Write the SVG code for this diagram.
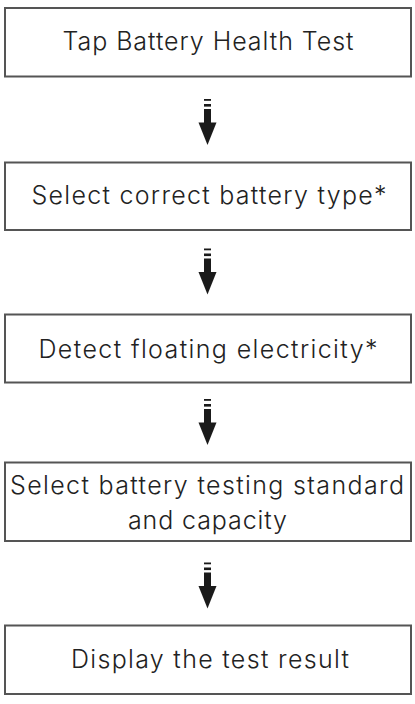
<svg xmlns="http://www.w3.org/2000/svg" width="415" height="704" viewBox="0 0 415 704">
<style>
.box{fill:#fff;stroke:#555;stroke-width:2}
.t{font-family:Inter,"Liberation Sans",sans-serif;font-weight:300;font-size:25px;fill:#222;text-anchor:middle}
.ar{fill:#1a1a1a}
</style>
<defs>
<g id="arrow">
<rect x="-3.5" y="0" width="7" height="1.8" class="ar"/>
<rect x="-3.5" y="5" width="7" height="2.6" class="ar"/>
<rect x="-3.5" y="10" width="7" height="14" class="ar"/>
<polygon points="-9,23.5 9,23.5 0,46" class="ar"/>
</g>
</defs>
<rect width="415" height="704" fill="#fff"/>
<g id="n1"><rect class="box" x="5" y="8" width="406" height="68.5"/><text class="t" x="208" y="50" textLength="291" lengthAdjust="spacing">Tap Battery Health Test</text></g>
<g id="n2"><rect class="box" x="5" y="162.5" width="406" height="67.5"/><text class="t" x="209" y="204" textLength="355" lengthAdjust="spacing">Select correct battery type*</text></g>
<g id="n3"><rect class="box" x="5" y="314.5" width="406" height="68"/><text class="t" x="208" y="358" textLength="339" lengthAdjust="spacing">Detect floating electricity*</text></g>
<g id="n4"><rect class="box" x="5" y="462.5" width="406" height="78.5"/><text class="t" x="207" y="494" textLength="394" lengthAdjust="spacing">Select battery testing standard</text><text class="t" x="207.5" y="529" textLength="159" lengthAdjust="spacing">and capacity</text></g>
<g id="n5"><rect class="box" x="5" y="625.5" width="406" height="68.5"/><text class="t" x="210" y="668" textLength="278" lengthAdjust="spacing">Display the test result</text></g>
<g id="connectors">
<use href="#arrow" x="207.5" y="99"/>
<use href="#arrow" x="207.5" y="248.5"/>
<use href="#arrow" x="207.5" y="399"/>
<use href="#arrow" x="207.5" y="562.5"/>
</g>
</svg>
